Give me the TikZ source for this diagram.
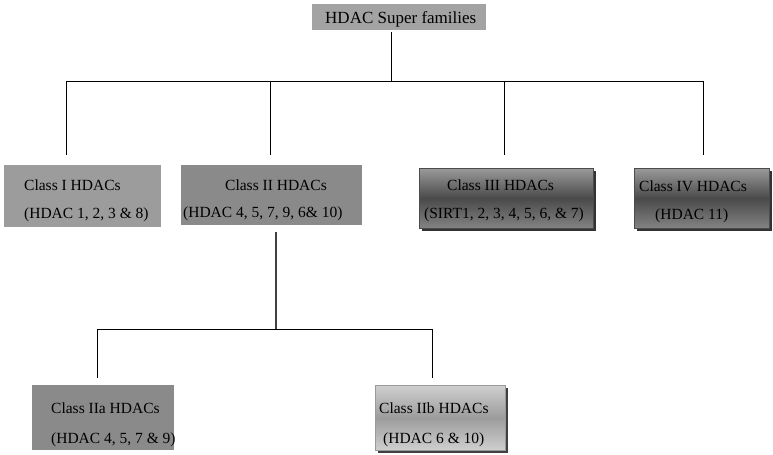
\documentclass[tikz,border=0pt]{standalone}
\usepackage{fontspec}
\setmainfont{Liberation Serif}
\usetikzlibrary{shadows}
\definecolor{topgray}{HTML}{A3A3A3}
\definecolor{onegray}{HTML}{9C9C9C}
\definecolor{twogray}{HTML}{8A8A8A}
\definecolor{darkedge}{HTML}{9A9A9A}
\definecolor{darkmid}{HTML}{4A4A4A}
\definecolor{lightedge}{HTML}{CFCFCF}
\definecolor{lightmid}{HTML}{9C9C9C}

\begin{document}
\begin{tikzpicture}[x=1bp,y=-1bp]

\tikzset{
  BoxStyle/.style = { rectangle, anchor = north west, inner sep = 0pt },
  FlatBox/.style = { BoxStyle, fill = #1 },
  DarkBox/.style = { BoxStyle, draw = black!70, line width = 0.6bp,
                     top color = darkedge, bottom color = darkedge!85!black, middle color = darkmid,
                     drop shadow = {shadow xshift = 2.5bp, shadow yshift = -2.5bp,
                                    fill = black!80, opacity = 1} },
  LightBox/.style = { BoxStyle, draw = black!40, line width = 0.6bp,
                      top color = lightedge, bottom color = lightedge, middle color = lightmid,
                      drop shadow = {shadow xshift = 2.5bp, shadow yshift = -2.5bp,
                                     fill = black!75, opacity = 1} },
  LabelStyle/.style = { anchor = base west, inner sep = 0pt,
                        font = \fontsize{15.5bp}{18bp}\selectfont },
  EdgeStyle/.style = { draw, line width = 0.8bp } }

  \useasboundingbox (0,0) rectangle (773,455);

  % boxes
  \node[FlatBox = topgray, minimum width = 174bp, minimum height = 26bp] (top) at (312, 4) {};
  \node[FlatBox = onegray, minimum width = 157bp, minimum height = 62bp] (c1) at (4, 165) {};
  \node[FlatBox = twogray, minimum width = 181bp, minimum height = 60bp] (c2) at (181, 165) {};
  \node[DarkBox, minimum width = 174bp, minimum height = 60bp] (c3) at (419, 168) {};
  \node[DarkBox, minimum width = 135bp, minimum height = 60bp] (c4) at (634, 168) {};
  \node[FlatBox = twogray, minimum width = 142bp, minimum height = 65bp] (c2a) at (32, 385) {};
  \node[LightBox, minimum width = 130bp, minimum height = 65bp] (c2b) at (375, 385) {};

  % texts
  \node[LabelStyle, font = \fontsize{17bp}{20bp}\selectfont] (topT) at (325, 24) {HDAC Super families};
  \node[LabelStyle] (c1T) at (24, 191) {Class I HDACs};
  \node[LabelStyle] (c1S) at (24, 219) {(HDAC 1, 2, 3 \& 8)};
  \node[LabelStyle] (c2T) at (225, 191) {Class II HDACs};
  \node[LabelStyle] (c2S) at (183, 218) {(HDAC 4, 5, 7, 9, 6\& 10)};
  \node[LabelStyle] (c3T) at (447, 191) {Class III HDACs};
  \node[LabelStyle] (c3S) at (424, 219) {(SIRT1, 2, 3, 4, 5, 6, \& 7)};
  \node[LabelStyle] (c4T) at (639, 192) {Class IV HDACs};
  \node[LabelStyle] (c4S) at (655, 220) {(HDAC 11)};
  \node[LabelStyle] (c2aT) at (51, 413) {Class IIa HDACs};
  \node[LabelStyle] (c2aS) at (51, 443) {(HDAC 4, 5, 7 \& 9)};
  \node[LabelStyle] (c2bT) at (379, 413) {Class IIb HDACs};
  \node[LabelStyle] (c2bS) at (383, 443) {(HDAC 6 \& 10)};

  % junctions
  \coordinate (j0) at (391, 81);
  \coordinate (jl) at (66, 81);
  \coordinate (jr) at (703, 81);
  \coordinate (j2) at (270, 81);
  \coordinate (j3) at (504, 81);
  \coordinate (k0) at (276, 329);
  \coordinate (kl) at (97, 329);
  \coordinate (kr) at (432, 329);

  \draw[EdgeStyle, shorten < = 2bp] (top.south -| j0) -- (j0);
  \draw[EdgeStyle] (jl) -- (jr);
  \draw[EdgeStyle, shorten > = 10bp] (jl) -- (jl |- c1.north);
  \draw[EdgeStyle, shorten > = 10bp] (j2) -- (j2 |- c2.north);
  \draw[EdgeStyle, shorten > = 13bp] (j3) -- (j3 |- c3.north);
  \draw[EdgeStyle, shorten > = 13bp] (jr) -- (jr |- c4.north);

  \draw[EdgeStyle, draw = black!75, line width = 1.2bp, shorten < = 7bp] (c2.south -| k0) -- (k0);
  \draw[EdgeStyle] (kl) -- (kr);
  \draw[EdgeStyle, shorten > = 7bp] (kl) -- (kl |- c2a.north);
  \draw[EdgeStyle, shorten > = 7bp] (kr) -- (kr |- c2b.north);

\end{tikzpicture}
\end{document}
